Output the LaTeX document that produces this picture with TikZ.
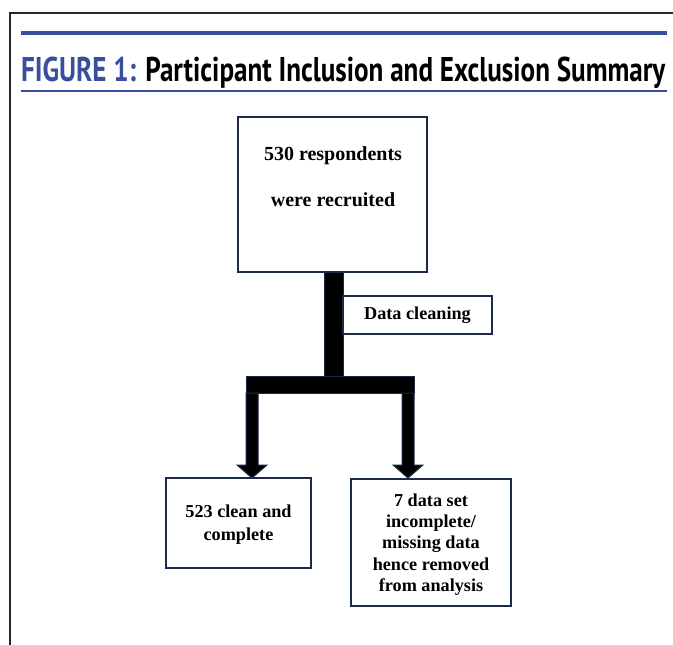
\documentclass[tikz,border=0pt]{standalone}
\usepackage{fontspec}
\setmainfont{Liberation Serif}
\newfontfamily\titlefont{PT Sans}
\usetikzlibrary{calc}
\definecolor{figblue}{RGB}{58,78,158}
\definecolor{navy}{RGB}{28,42,74}
\begin{document}
\begin{tikzpicture}[x=1pt,y=-1pt,
  box/.style={draw=navy,line width=1.6pt,fill=white,inner sep=0pt},
  boxtext/.style={align=center,inner sep=0pt,font=\bfseries\fontsize{18.2}{23}\selectfont},
  bar/.style={fill=black,draw=navy,line width=1pt,line join=miter}]
\useasboundingbox[fill=white] (0,0) rectangle (673,645);
% frame
\draw[line width=2.2pt,draw=black!85] (10,645) -- (10,13) -- (673,13);
% title rules
\fill[figblue] (21,31) rectangle (667,35);
\fill[figblue] (21,89.5) rectangle (667,91.5);
\node[anchor=base west,inner sep=0pt] (title) at (21,81)
  {\resizebox{644pt}{24.5pt}{\titlefont\bfseries\textcolor{figblue}{FIGURE 1:} Participant Inclusion and Exclusion Summary}};
% connectors (thick bars and block arrows)
\draw[bar] (324,272) rectangle (343,377);
\draw[bar] (246,376) rectangle (414,393);
\draw[bar] (246,393) -- (246,465) -- (237,465) -- (252,478) -- (267,465) -- (258,465) -- (258,393) -- cycle;
\draw[bar] (402,393) -- (402,465) -- (393,465) -- (408,478) -- (423,465) -- (414,465) -- (414,393) -- cycle;
% boxes
\node[box,minimum width=189pt,minimum height=155pt] (recruit) at (332.5,194.5) {};
\node[boxtext,font=\bfseries\fontsize{20}{46}\selectfont] (recruittxt) at (333,177) {530 respondents\\were recruited};
\node[box,minimum width=149pt,minimum height=38pt] (cleaning) at (417.5,315) {};
\node[boxtext] (cleaningtxt) at (417.5,315.5) {Data cleaning};
\node[box,minimum width=145pt,minimum height=90pt] (clean) at (238.5,523) {};
\node[boxtext] (cleantxt) at (238.5,524.5) {523 clean and\\complete};
\node[box,minimum width=160pt,minimum height=127pt] (missing) at (431,542.5) {};
\node[boxtext,font=\bfseries\fontsize{18.2}{21.3}\selectfont] (missingtxt) at (431,544.5) {7 data set\\incomplete/\\missing data\\hence removed\\from analysis};
\end{tikzpicture}
\end{document}
